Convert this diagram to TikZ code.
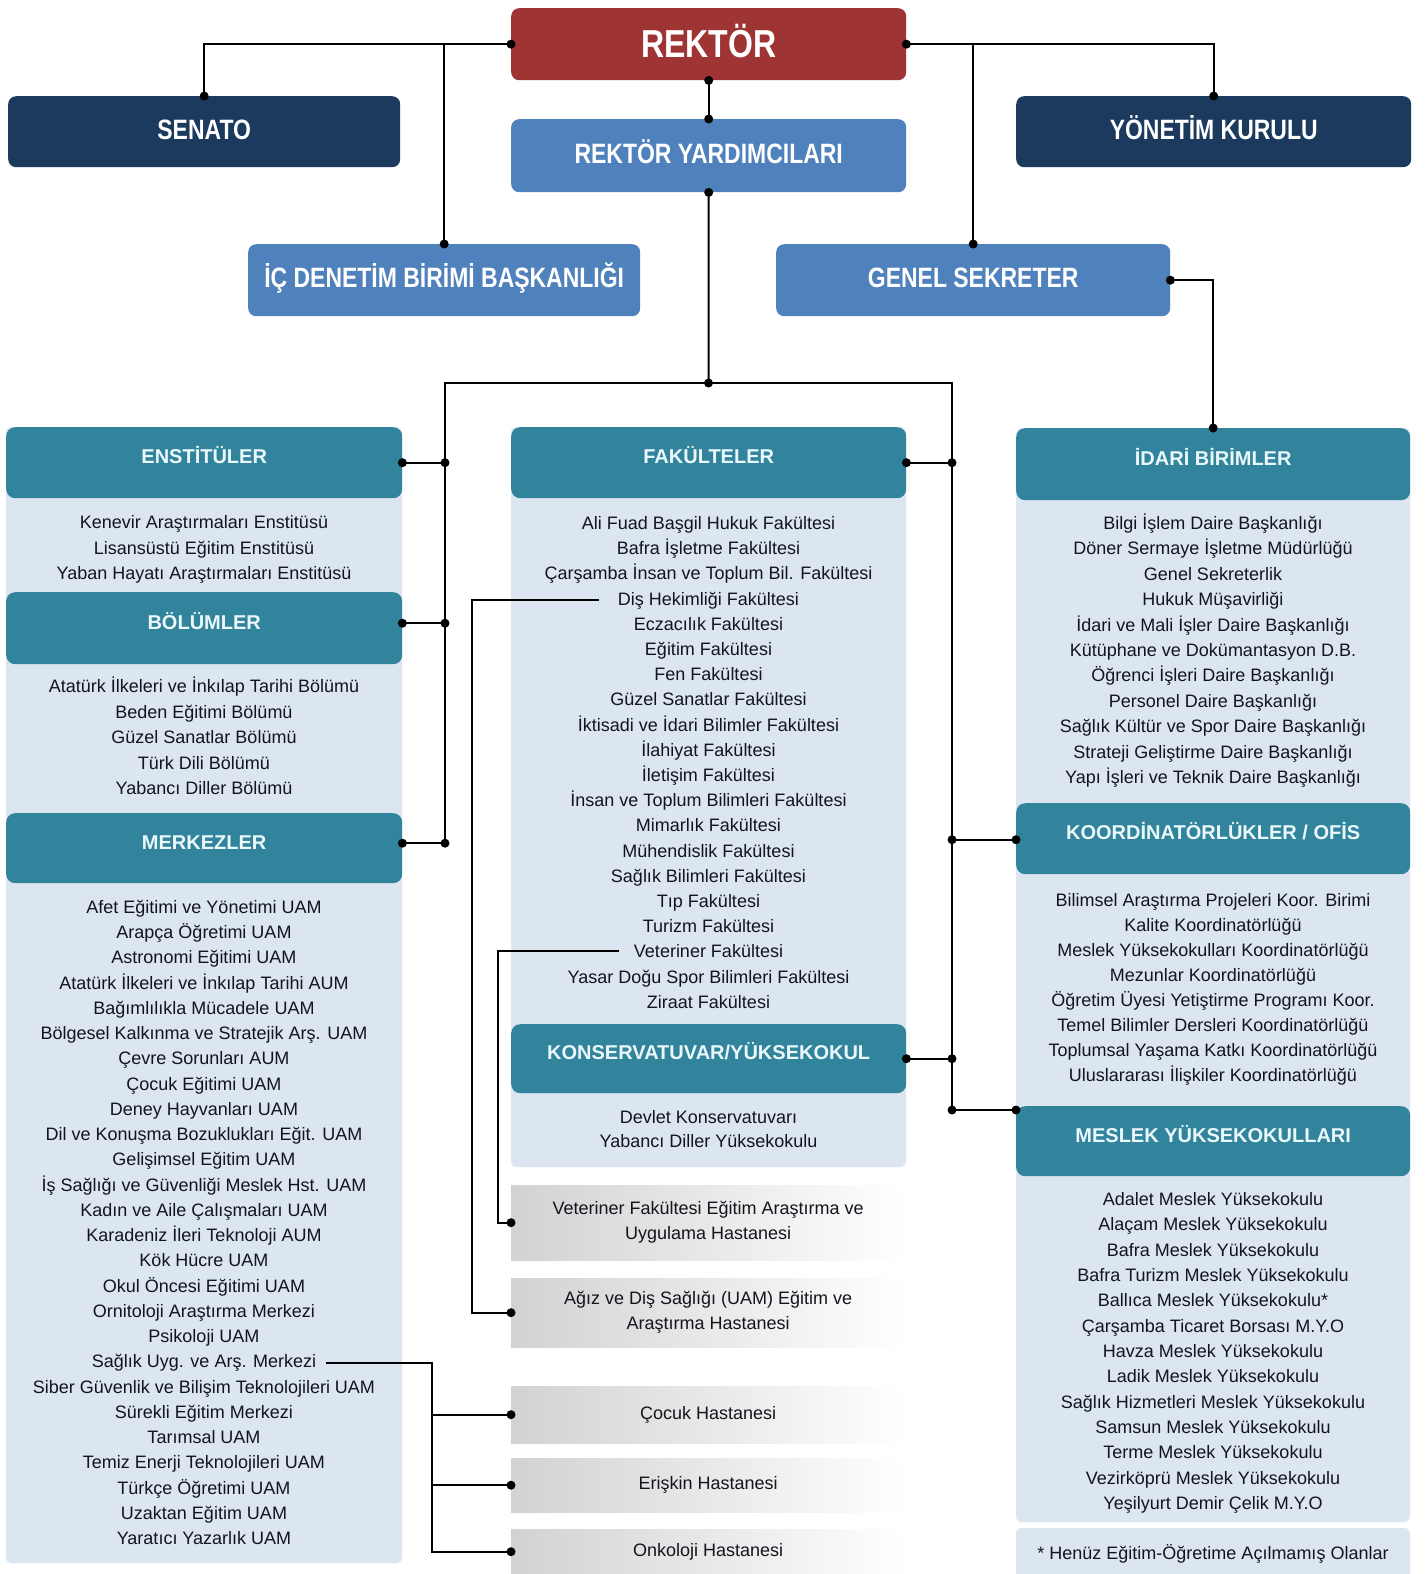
\documentclass[tikz,border=0pt]{standalone}
\usepackage{fontspec}
\setmainfont{Liberation Sans}
\newfontfamily\condfont[FakeStretch=0.82]{Liberation Sans}
\definecolor{rektred}{HTML}{9E3433}
\definecolor{navyblue}{HTML}{1B3A5E}
\definecolor{midblue}{HTML}{4F81BD}
\definecolor{hdrteal}{HTML}{31849B}
\definecolor{panelblue}{HTML}{DCE6F1}
\definecolor{itemtxt}{HTML}{14141E}
\definecolor{hdrtxt}{HTML}{EAF8FB}
\definecolor{hospgray}{HTML}{D2D2D2}
\tikzset{
  topbox/.style={rounded corners=8pt, inner sep=0pt, anchor=north west, text=white,
    font=\condfont\bfseries\fontsize{28}{30}\selectfont, text height=20pt, text depth=5pt},
  hdrbox/.style={fill=hdrteal, rounded corners=9pt, inner sep=0pt, anchor=north west,
    text=hdrtxt, font=\bfseries\fontsize{20}{22}\selectfont, text height=10pt, text depth=8pt},
  panelbg/.style={fill=panelblue, rounded corners=5pt},
  listitem/.style={font=\fontsize{18}{22}\selectfont, text=itemtxt, inner sep=2pt, anchor=base},
  hospbox/.style={left color=hospgray, right color=white, inner sep=0pt, anchor=north west,
    minimum width=394pt, align=center, text=itemtxt, font=\fontsize{18}{25}\selectfont},
  conn/.style={line width=2pt, draw=black},
}
\begin{document}
\begin{tikzpicture}[x=1pt,y=-1pt]
\fill[white] (0,0) rectangle (1426,1574);
\useasboundingbox (0,0) rectangle (1426,1574);
% panels
\fill[panelbg] (6,427) rectangle (402,1563);
\fill[panelbg] (511,427) rectangle (906,1167);
\fill[panelbg] (1016,428) rectangle (1410,1522);
\fill[panelbg] (1016,1528) rectangle (1410,1580);
% top boxes
\node[topbox, fill=rektred, minimum width=395pt, minimum height=72pt,
  font=\condfont\bfseries\fontsize{39}{42}\selectfont, text height=27pt, text depth=0pt] (rektor) at (511,8) {REKTÖR};
\node[topbox, fill=navyblue, minimum width=392pt, minimum height=71pt] (senato) at (8,96) {SENATO};
\node[topbox, fill=navyblue, minimum width=395pt, minimum height=71pt] (yonetim) at (1016,96) {YÖNETİM KURULU};
\node[topbox, fill=midblue, minimum width=395pt, minimum height=73pt] (ry) at (511,119) {REKTÖR YARDIMCILARI};
\node[topbox, fill=midblue, minimum width=392pt, minimum height=72pt] (icden) at (248,244) {İÇ DENETİM BİRİMİ BAŞKANLIĞI};
\node[topbox, fill=midblue, minimum width=394pt, minimum height=72pt] (genel) at (776,244) {GENEL SEKRETER};
% section headers
\node[hdrbox, minimum width=396pt, minimum height=71pt] (enst) at (6,427) {ENSTİTÜLER};
\node[hdrbox, minimum width=396pt, minimum height=72pt] (bolum) at (6,592) {BÖLÜMLER};
\node[hdrbox, minimum width=396pt, minimum height=70pt] (merk) at (6,813) {MERKEZLER};
\node[hdrbox, minimum width=395pt, minimum height=71pt] (fak) at (511,427) {FAKÜLTELER};
\node[hdrbox, minimum width=395pt, minimum height=69pt] (kons) at (511,1024) {KONSERVATUVAR/YÜKSEKOKUL};
\node[hdrbox, minimum width=394pt, minimum height=72pt] (idari) at (1016,428) {İDARİ BİRİMLER};
\node[hdrbox, minimum width=394pt, minimum height=71pt] (koor) at (1016,803) {KOORDİNATÖRLÜKLER / OFİS};
\node[hdrbox, minimum width=394pt, minimum height=70pt] (myo) at (1016,1106) {MESLEK YÜKSEKOKULLARI};
% lists
\foreach \t [count=\i] in {Kenevir Araştırmaları Enstitüsü,
  Lisansüstü Eğitim Enstitüsü,
  Yaban Hayatı Araştırmaları Enstitüsü}
  \node[listitem] (e\i) at (204,{522+25.5*(\i-1)+6.5}) {\t};
\foreach \t [count=\i] in {Atatürk İlkeleri ve İnkılap Tarihi Bölümü,
  Beden Eğitimi Bölümü,
  Güzel Sanatlar Bölümü,
  Türk Dili Bölümü,
  Yabancı Diller Bölümü}
  \node[listitem] (b\i) at (204,{686+25.5*(\i-1)+6.5}) {\t};
\foreach \t [count=\i] in {Afet Eğitimi ve Yönetimi UAM,
  Arapça Öğretimi UAM,
  Astronomi Eğitimi UAM,
  Atatürk İlkeleri ve İnkılap Tarihi AUM,
  Bağımlılıkla Mücadele UAM,
  Bölgesel Kalkınma ve Stratejik Arş. UAM,
  Çevre Sorunları AUM,
  Çocuk Eğitimi UAM,
  Deney Hayvanları UAM,
  Dil ve Konuşma Bozuklukları Eğit. UAM,
  Gelişimsel Eğitim UAM,
  İş Sağlığı ve Güvenliği Meslek Hst. UAM,
  Kadın ve Aile Çalışmaları UAM,
  Karadeniz İleri Teknoloji AUM,
  Kök Hücre UAM,
  Okul Öncesi Eğitimi UAM,
  Ornitoloji Araştırma Merkezi,
  Psikoloji UAM,
  Sağlık Uyg. ve Arş. Merkezi,
  Siber Güvenlik ve Bilişim Teknolojileri UAM,
  Sürekli Eğitim Merkezi,
  Tarımsal UAM,
  Temiz Enerji Teknolojileri UAM,
  Türkçe Öğretimi UAM,
  Uzaktan Eğitim UAM,
  Yaratıcı Yazarlık UAM}
  \node[listitem] (m\i) at (204,{907+25.24*(\i-1)+6.5}) {\t};
\foreach \t [count=\i] in {Ali Fuad Başgil Hukuk Fakültesi,
  Bafra İşletme Fakültesi,
  Çarşamba İnsan ve Toplum Bil. Fakültesi,
  Diş Hekimliği Fakültesi,
  Eczacılık Fakültesi,
  Eğitim Fakültesi,
  Fen Fakültesi,
  Güzel Sanatlar Fakültesi,
  İktisadi ve İdari Bilimler Fakültesi,
  İlahiyat Fakültesi,
  İletişim Fakültesi,
  İnsan ve Toplum Bilimleri Fakültesi,
  Mimarlık Fakültesi,
  Mühendislik Fakültesi,
  Sağlık Bilimleri Fakültesi,
  Tıp Fakültesi,
  Turizm Fakültesi,
  Veteriner Fakültesi,
  Yasar Doğu Spor Bilimleri Fakültesi,
  Ziraat Fakültesi}
  \node[listitem] (f\i) at (708.5,{523+25.2*(\i-1)+6.5}) {\t};
\foreach \t [count=\i] in {Devlet Konservatuvarı,
  Yabancı Diller Yüksekokulu}
  \node[listitem] (k\i) at (708.5,{1117+24*(\i-1)+6.5}) {\t};
\foreach \t [count=\i] in {Bilgi İşlem Daire Başkanlığı,
  Döner Sermaye İşletme Müdürlüğü,
  Genel Sekreterlik,
  Hukuk Müşavirliği,
  İdari ve Mali İşler Daire Başkanlığı,
  Kütüphane ve Dokümantasyon D.B.,
  Öğrenci İşleri Daire Başkanlığı,
  Personel Daire Başkanlığı,
  Sağlık Kültür ve Spor Daire Başkanlığı,
  Strateji Geliştirme Daire Başkanlığı,
  Yapı İşleri ve Teknik Daire Başkanlığı}
  \node[listitem] (i\i) at (1213,{523+25.4*(\i-1)+6.5}) {\t};
\foreach \t [count=\i] in {Bilimsel Araştırma Projeleri Koor. Birimi,
  Kalite Koordinatörlüğü,
  Meslek Yüksekokulları Koordinatörlüğü,
  Mezunlar Koordinatörlüğü,
  Öğretim Üyesi Yetiştirme Programı Koor.,
  Temel Bilimler Dersleri Koordinatörlüğü,
  Toplumsal Yaşama Katkı Koordinatörlüğü,
  Uluslararası İlişkiler Koordinatörlüğü}
  \node[listitem] (c\i) at (1213,{900+25*(\i-1)+6.5}) {\t};
\foreach \t [count=\i] in {Adalet Meslek Yüksekokulu,
  Alaçam Meslek Yüksekokulu,
  Bafra Meslek Yüksekokulu,
  Bafra Turizm Meslek Yüksekokulu,
  Ballıca Meslek Yüksekokulu*,
  Çarşamba Ticaret Borsası M.Y.O,
  Havza Meslek Yüksekokulu,
  Ladik Meslek Yüksekokulu,
  Sağlık Hizmetleri Meslek Yüksekokulu,
  Samsun Meslek Yüksekokulu,
  Terme Meslek Yüksekokulu,
  Vezirköprü Meslek Yüksekokulu,
  Yeşilyurt Demir Çelik M.Y.O}
  \node[listitem] (y\i) at (1213,{1199+25.33*(\i-1)+6.5}) {\t};
\node[listitem] (fn) at (1213,1559.5) {* Henüz Eğitim-Öğretime Açılmamış Olanlar};
% hospitals
\node[hospbox, minimum height=75pt] (vet) at (511,1185) {Veteriner Fakültesi Eğitim Araştırma ve\\Uygulama Hastanesi};
\node[hospbox, minimum height=69pt] (agiz) at (511,1278) {Ağız ve Diş Sağlığı (UAM) Eğitim ve\\Araştırma Hastanesi};
\node[hospbox, minimum height=57pt] (cocuk) at (511,1386) {Çocuk Hastanesi};
\node[hospbox, minimum height=54pt] (eriskin) at (511,1458) {Erişkin Hastanesi};
\node[hospbox, minimum height=45pt] (onk) at (511,1529) {Onkoloji Hastanesi};
% connectors: top
\draw[conn] (rektor.west) -| (senato.north);
\draw[conn] (rektor.west -| icden.north) -- (icden.north);
\draw[conn] (rektor.east) -| (yonetim.north);
\draw[conn] (rektor.east -| genel.north) -- (genel.north);
\draw[conn] (rektor.south) -- (ry.north);
\draw[conn] (genel.east) -| (idari.north);
\coordinate (jc) at (708.5,383);
\coordinate (jl) at (445,383);
\coordinate (jr) at (952,383);
\draw[conn] (ry.south) -- (jc);
% section connectors
\coordinate (enstE) at (enst.east);
\coordinate (enstJ) at (jl |- enstE);
\coordinate (bolE) at ([yshift=5pt]bolum.east);
\coordinate (bolJ) at (jl |- bolE);
\coordinate (merkE) at ([yshift=5pt]merk.east);
\coordinate (merkJ) at (jl |- merkE);
\coordinate (fakE) at (fak.east);
\coordinate (fakJ) at (jr |- fakE);
\coordinate (konsE) at (kons.east);
\coordinate (konsJ) at (jr |- konsE);
\coordinate (koorW) at ([yshift=-1pt]koor.west);
\coordinate (koorJ) at (jr |- koorW);
\coordinate (myoW) at ([yshift=-4pt]myo.north west);
\coordinate (myoJ) at (jr |- myoW);
\draw[conn] (merkJ) -- (jl) -- (jr) -- (myoJ);
\draw[conn] (enstE) -- (enstJ);
\draw[conn] (bolE) -- (bolJ);
\draw[conn] (merkE) -- (merkJ);
\draw[conn] (fakE) -- (fakJ);
\draw[conn] (konsE) -- (konsJ);
\draw[conn] (koorW) -- (koorJ);
\draw[conn] (myoW) -- (myoJ);
% hospital connectors
\coordinate (disS) at ([xshift=-17pt]f4.west);
\coordinate (vetS) at ([xshift=-13pt]f18.west);
\coordinate (sagS) at ([xshift=8pt]m19.east);
\coordinate (dx) at (472,0);
\coordinate (vx) at (498,0);
\coordinate (sx) at (432,0);
\draw[conn] (disS) -| (dx |- agiz.west) -- (agiz.west);
\draw[conn] (vetS) -| (vx |- vet.west) -- (vet.west);
\draw[conn] (sagS) -| (sx |- onk.west) -- (onk.west);
\draw[conn] (sx |- cocuk.west) -- (cocuk.west);
\draw[conn] (sx |- eriskin.west) -- (eriskin.west);
% dots
\foreach \p in {rektor.west, rektor.east, rektor.south, senato.north, icden.north,
  yonetim.north, genel.north, ry.north, ry.south, genel.east, idari.north, jc,
  enstE, enstJ, bolE, bolJ, merkE, merkJ, fakE, fakJ, konsE, konsJ, koorW, koorJ,
  myoW, myoJ, vet.west, agiz.west, cocuk.west, eriskin.west, onk.west}
  \fill[black] (\p) circle[radius=4.5pt];
\end{tikzpicture}
\end{document}
